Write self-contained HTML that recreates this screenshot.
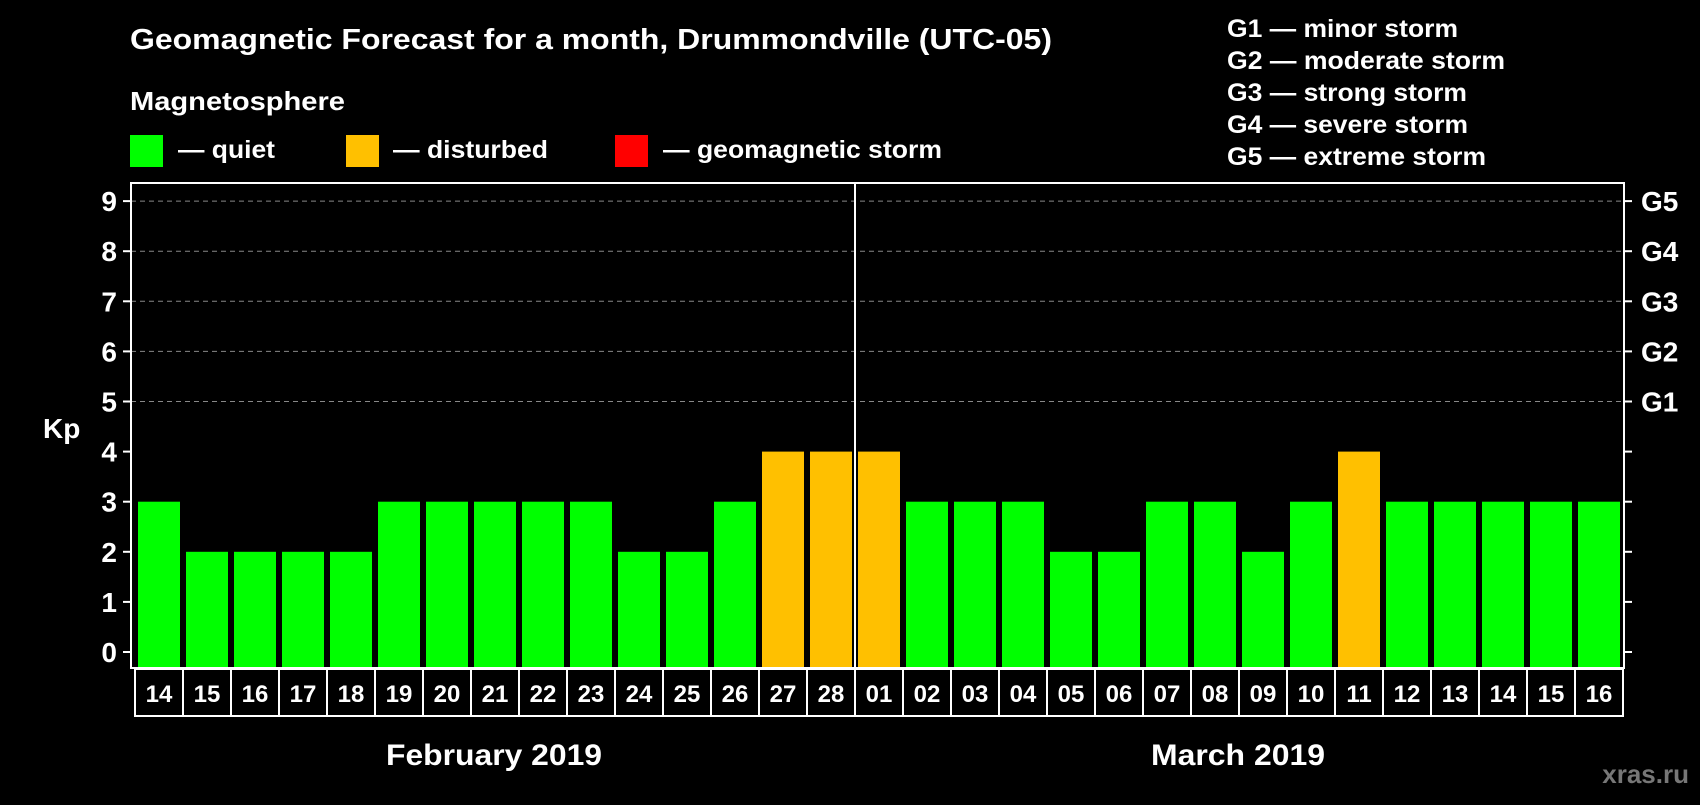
<!DOCTYPE html>
<html><head><meta charset="utf-8"><style>
body{margin:0;background:#000;width:1700px;height:800px;overflow:hidden;font-family:"Liberation Sans",sans-serif;}
svg text{font-family:"Liberation Sans",sans-serif;font-weight:bold;fill:#fff;}
</style></head><body>
<svg id="chart" width="1700" height="800" xmlns="http://www.w3.org/2000/svg">
<rect width="1700" height="800" fill="#000"/>
<text x="130" y="49" font-size="29" textLength="922" lengthAdjust="spacingAndGlyphs">Geomagnetic Forecast for a month, Drummondville (UTC-05)</text>
<text x="130" y="110" font-size="26" textLength="215" lengthAdjust="spacingAndGlyphs">Magnetosphere</text>
<g><rect x="130" y="135" width="33" height="32" fill="#00ff00"/><text x="178" y="158" font-size="25" textLength="97" lengthAdjust="spacingAndGlyphs">— quiet</text></g>
<g><rect x="346" y="135" width="33" height="32" fill="#ffc000"/><text x="393" y="158" font-size="25" textLength="155" lengthAdjust="spacingAndGlyphs">— disturbed</text></g>
<g><rect x="615" y="135" width="33" height="32" fill="#ff0000"/><text x="663" y="158" font-size="25" textLength="279" lengthAdjust="spacingAndGlyphs">— geomagnetic storm</text></g>
<g font-size="25">
<text x="1227" y="37" textLength="231" lengthAdjust="spacingAndGlyphs">G1 — minor storm</text>
<text x="1227" y="69" textLength="278" lengthAdjust="spacingAndGlyphs">G2 — moderate storm</text>
<text x="1227" y="101" textLength="240" lengthAdjust="spacingAndGlyphs">G3 — strong storm</text>
<text x="1227" y="133" textLength="241" lengthAdjust="spacingAndGlyphs">G4 — severe storm</text>
<text x="1227" y="165" textLength="259" lengthAdjust="spacingAndGlyphs">G5 — extreme storm</text>
</g>
<text x="43" y="438" font-size="28">Kp</text>
<g id="plot"></g>
<text x="494" y="765" font-size="30" text-anchor="middle" textLength="216" lengthAdjust="spacingAndGlyphs">February 2019</text>
<text x="1238" y="765" font-size="30" text-anchor="middle" textLength="174" lengthAdjust="spacingAndGlyphs">March 2019</text>
<text x="1689" y="783" font-size="26" text-anchor="end" style="fill:#777">xras.ru</text>
</svg>
<script>
const days=["14","15","16","17","18","19","20","21","22","23","24","25","26","27","28","01","02","03","04","05","06","07","08","09","10","11","12","13","14","15","16"];
const kp=[3,2,2,2,2,3,3,3,3,3,2,2,3,4,4,4,3,3,3,2,2,3,3,2,3,4,3,3,3,3,3];
const yTicks=[0,1,2,3,4,5,6,7,8,9];
const gLabels=["G1","G2","G3","G4","G5"];
const NS="http://www.w3.org/2000/svg";
const g=document.getElementById('plot');
const L=131,R=1624,T=183,B=668,x0=138,pitch=48,bw=42;
const y=v=>652-v*50.1;
const xb=i=>x0+i*pitch;
function mk(t,a){const e=document.createElementNS(NS,t);for(const k in a)e.setAttribute(k,a[k]);g.appendChild(e);return e;}
yTicks.forEach(v=>{
 if(v>=5){const l=mk('line',{x1:L,x2:R,y1:y(v),y2:y(v),stroke:'#888','stroke-dasharray':'5,4','stroke-width':1});
 
 }
 mk('line',{x1:L-8,x2:L,y1:y(v),y2:y(v),stroke:'#fff','stroke-width':2});
 mk('line',{x1:R,x2:R+8,y1:y(v),y2:y(v),stroke:'#fff','stroke-width':2});
 const t=mk('text',{x:L-14,y:y(v)+10,'font-size':28,'text-anchor':'end'});t.textContent=v;
 
 
});
gLabels.forEach((s,i)=>{const t=mk('text',{x:R+17,y:y(i+5)+10,'font-size':28});t.textContent=s;
 
 });
kp.forEach((v,i)=>{
 const c=v>=5?'#ff0000':(v>=4?'#ffc000':'#00ff00');
 const r=mk('rect',{x:xb(i),y:y(v),width:bw,height:B-y(v),fill:c});
 
 
 mk('rect',{x:xb(i)-3,y:B+1,width:pitch,height:47,fill:'none',stroke:'#fff','stroke-width':2});
 const t=mk('text',{x:xb(i)+bw/2,y:B+34,'font-size':24,'text-anchor':'middle'});t.textContent=days[i];
 
 
});
const ml=mk('line',{x1:855,x2:855,y1:T,y2:B,stroke:'#fff','stroke-width':2});


const fr=mk('rect',{x:L,y:T,width:R-L,height:B-T,fill:'none',stroke:'#fff','stroke-width':2});


</script>
</body></html>
